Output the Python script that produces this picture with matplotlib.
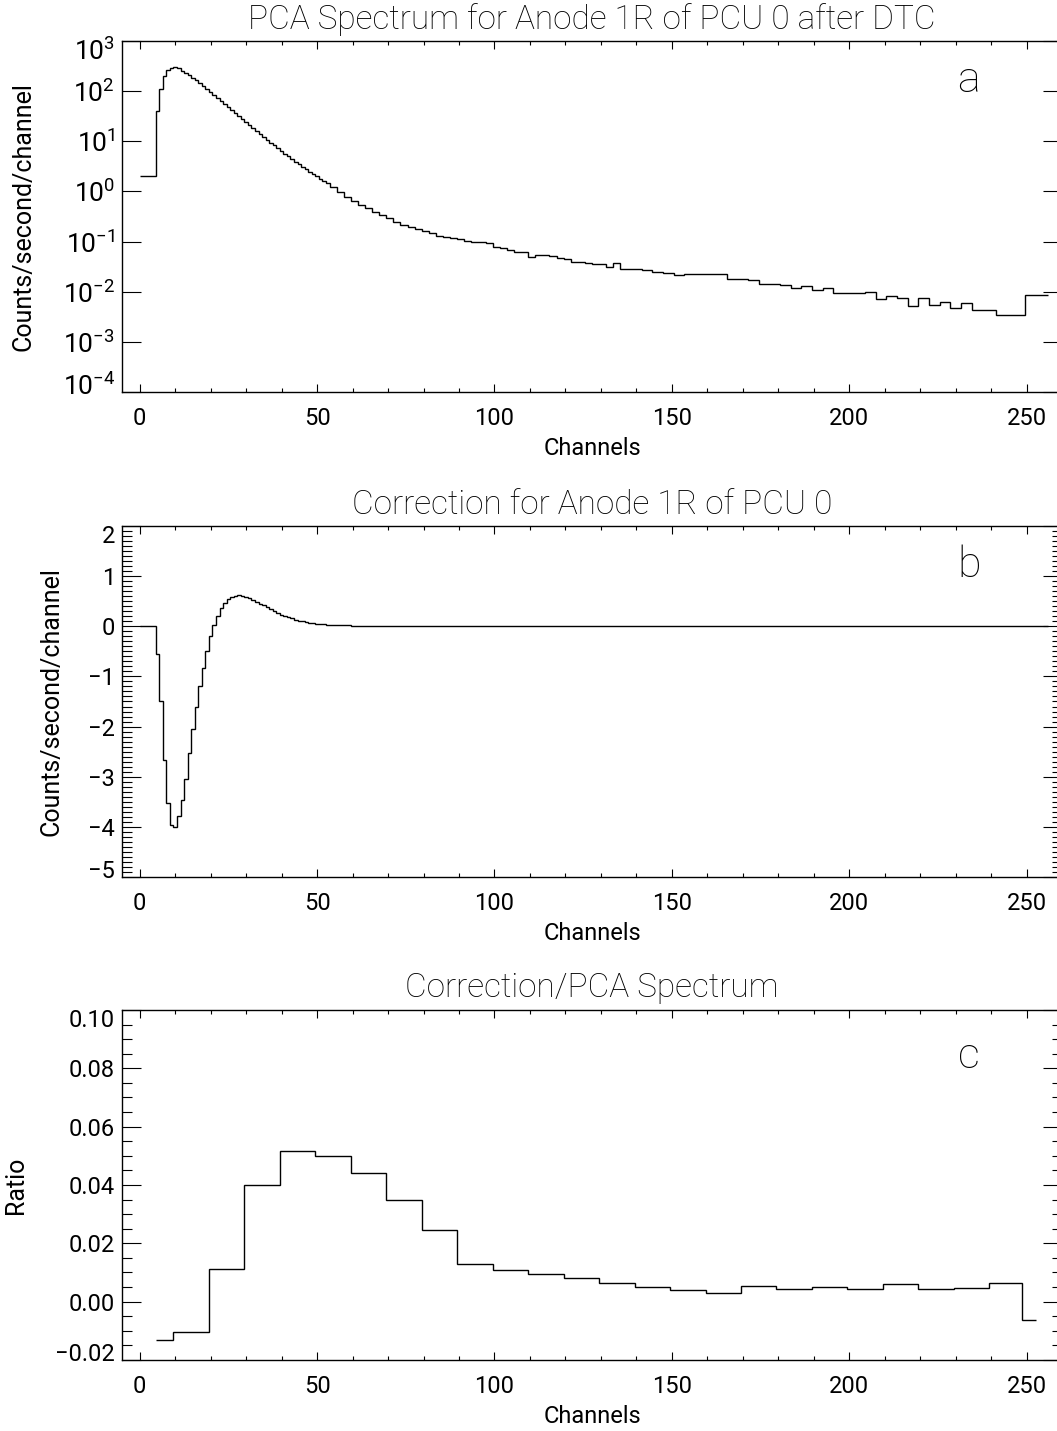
"""
Recreation of an IDL-style three-panel PCA spectrum figure:
    (a) spectrum after dead-time correction, log scale
    (b) correction applied to the spectrum
    (c) ratio of correction to spectrum, 10-channel bins
"""

import matplotlib
matplotlib.use("Agg")
import matplotlib.pyplot as plt
from matplotlib.ticker import MultipleLocator, LogLocator, NullLocator
from matplotlib.transforms import ScaledTranslation

plt.rcParams["font.family"] = ["Roboto", "DejaVu Sans"]
plt.rcParams["axes.linewidth"] = 1.0

# Channel bin edges of the spectrum (single, double, triple and wide bins)
SPEC_EDGES = [
    0, 4.5, 5.5, 6.5, 7.5, 8.5, 9.5, 10.5, 11.5, 12.5, 13.5, 14.5, 15.5, 16.5,
    17.5, 18.5, 19.5, 20.5, 21.5, 22.5, 23.5, 24.5, 25.5, 26.5, 27.5, 28.5,
    29.5, 30.5, 31.5, 32.5, 33.5, 34.5, 35.5, 36.5, 37.5, 38.5, 39.5, 40.5,
    41.5, 42.5, 43.5, 44.5, 45.5, 46.5, 47.5, 48.5, 49.5, 50.5, 51.5, 52.5,
    53.5,
    55.5, 57.5, 59.5, 61.5, 63.5, 65.5, 67.5, 69.5, 71.5, 73.5, 75.5, 77.5,
    79.5, 81.5, 83.5, 85.5, 87.5, 89.5, 91.5, 93.5, 95.5, 97.5, 99.5, 101.5,
    103.5, 105.5, 107.5, 109.5, 111.5, 113.5, 115.5, 117.5, 119.5, 121.5,
    123.5, 125.5, 127.5, 129.5, 131.5, 133.5, 135.5,
    138.5, 141.5, 144.5, 147.5, 150.5, 153.5, 156.5, 159.5, 162.5, 165.5,
    168.5, 171.5, 174.5, 177.5, 180.5, 183.5, 186.5, 189.5, 192.5, 195.5,
    198.5, 201.5, 204.5, 207.5, 210.5, 213.5, 216.5, 219.5, 222.5, 225.5,
    228.5, 231.5, 234.5,
    241.5, 249.5, 256,
]

# Panel a: counts/second/channel per bin
SPEC_RATE = [
    2.06,
    41, 112, 204, 263, 295, 302, 295, 257, 234, 209,
    186, 164, 145, 126, 110, 95, 85, 74, 65, 56,
    49, 42, 36, 32, 27.5, 24.0, 20.9, 18.2, 15.8, 13.8,
    12.0, 10.7, 9.3, 8.3, 7.2, 6.5, 5.6, 5.0, 4.5, 3.9,
    3.5, 3.1, 2.75, 2.45, 2.2, 2.0, 1.8, 1.62, 1.46,
    1.20, 0.97, 0.79, 0.64, 0.54, 0.47, 0.39, 0.34, 0.29, 0.247,
    0.215, 0.196, 0.179, 0.166, 0.147, 0.132, 0.126, 0.118, 0.113, 0.105,
    0.100, 0.099, 0.093, 0.079, 0.074, 0.068, 0.063, 0.062, 0.050, 0.055,
    0.054, 0.051, 0.046, 0.044, 0.040, 0.039, 0.038, 0.036, 0.035, 0.031,
    0.037,
    0.0288, 0.0282, 0.0275, 0.0245, 0.0240, 0.0214, 0.0229, 0.0229, 0.0229, 0.0224,
    0.0182, 0.0178, 0.0170, 0.0145, 0.0141, 0.0138, 0.0120, 0.0132, 0.0107, 0.0117,
    0.0093, 0.0093, 0.0095, 0.0098, 0.0071, 0.0083, 0.0074, 0.0051, 0.0074, 0.0054,
    0.0062, 0.0047, 0.0060,
    0.0043, 0.0035, 0.0085,
]

# Panel b: correction per bin (same binning as the spectrum)
CORRECTION = [
    0.0,
    -0.55, -1.50, -2.66, -3.52, -3.96, -4.00, -3.78, -3.47, -3.05, -2.53,
    -2.04, -1.60, -1.19, -0.83, -0.49, -0.20, 0.03, 0.21, 0.36, 0.47,
    0.54, 0.59, 0.61, 0.62, 0.61, 0.59, 0.56, 0.53, 0.49, 0.45,
    0.42, 0.38, 0.34, 0.30, 0.27, 0.23, 0.21, 0.18, 0.16, 0.13,
    0.11, 0.10, 0.087, 0.073, 0.060, 0.053, 0.046, 0.040, 0.035,
    0.030, 0.024, 0.019, 0.015, 0.012, 0.009, 0.007, 0.005, 0.004, 0.003,
    0.002, 0.0015, 0.001, 0.0, 0.0, 0.0, 0.0, 0.0, 0.0, 0.0,
    0.0, 0.0, 0.0, 0.0, 0.0, 0.0, 0.0, 0.0, 0.0, 0.0,
    0.0, 0.0, 0.0, 0.0, 0.0, 0.0, 0.0, 0.0, 0.0, 0.0,
    0.0,
    0.0, 0.0, 0.0, 0.0, 0.0, 0.0, 0.0, 0.0, 0.0, 0.0,
    0.0, 0.0, 0.0, 0.0, 0.0, 0.0, 0.0, 0.0, 0.0, 0.0,
    0.0, 0.0, 0.0, 0.0, 0.0, 0.0, 0.0, 0.0, 0.0, 0.0,
    0.0, 0.0, 0.0,
    0.0, 0.0, 0.0,
]

# Panel c: ratio in ~10-channel bins
RATIO_EDGES = [4.5, 9.5, 19.5, 29.5, 39.5, 49.5, 59.5, 69.5, 79.5, 89.5,
               99.5, 109.5, 119.5, 129.5, 139.5, 149.5, 159.5, 169.5, 179.5,
               189.5, 199.5, 209.5, 219.5, 229.5, 239.5, 248.7, 252.6]
RATIO = [-0.0133, -0.0105, 0.0111, 0.0400, 0.0515, 0.0500, 0.0441, 0.0350,
         0.0245, 0.0130, 0.0109, 0.0095, 0.0082, 0.0065, 0.0050, 0.0040,
         0.0030, 0.0055, 0.0044, 0.0050, 0.0042, 0.0062, 0.0043, 0.0047,
         0.0063, -0.0062]

TICK_FS = 17
LOG_TICK_FS = 19
LABEL_FS = 17
YLABEL_FS = 18
TITLE_FS = 24
TAG_FS = 31

W, H = 1057, 1431


def _axes_px(fig, left, top, right, bottom):
    """Adds axes from pixel box (y measured from the top)."""
    return fig.add_axes([left / W, 1 - bottom / H, (right - left) / W, (bottom - top) / H])


def _style(ax, title, ylabel, ylab_x, tag, tag_y):
    ax.set_xlim(-5, 260)
    ax.xaxis.set_major_locator(MultipleLocator(50))
    ax.xaxis.set_minor_locator(MultipleLocator(10))
    ax.tick_params(which="both", direction="in", top=True, right=True,
                   width=0.8, labelsize=TICK_FS)
    ax.tick_params(axis="x", which="major", length=5.8, pad=11)
    ax.tick_params(axis="x", which="minor", length=2.9)
    ax.tick_params(axis="y", which="major", length=13.7, pad=5)
    ax.tick_params(axis="y", which="minor", length=7)
    ax.set_xlabel("Channels", fontsize=LABEL_FS, labelpad=5)
    ax.set_ylabel(ylabel, fontsize=YLABEL_FS)
    ax.yaxis.set_label_coords(ylab_x, 0.5)
    ax.set_title(title, fontsize=TITLE_FS, fontweight="light", pad=9)
    ax.text(0.901, tag_y, tag, transform=ax.transAxes, fontsize=TAG_FS,
            fontweight="light", ha="center", va="baseline")


def _nudge_end_labels(fig, ax):
    """IDL keeps the end labels inside the axis range: shift them inward."""
    lo, hi = ax.get_ylim()
    shift = 8 / 100
    for tick in ax.yaxis.get_major_ticks():
        loc = tick.get_loc()
        if abs(loc - hi) <= 1e-9 * max(1, abs(hi)):
            dy = -shift
        elif abs(loc - lo) <= 1e-9 * max(1, abs(lo)):
            dy = shift
        else:
            continue
        off = ScaledTranslation(0, dy, fig.dpi_scale_trans)
        tick.label1.set_transform(tick.label1.get_transform() + off)


fig = plt.figure(figsize=(W / 100, H / 100), dpi=100)

# (a) spectrum
ax1 = _axes_px(fig, 122, 41, 1062, 392)
ax1.stairs(SPEC_RATE, SPEC_EDGES, baseline=None, color="black", linewidth=1.0)
ax1.set_yscale("log")
ax1.set_ylim(1e-4, 1e3)
ax1.yaxis.set_major_locator(LogLocator(base=10, numticks=12))
ax1.yaxis.set_minor_locator(NullLocator())
_style(ax1, "PCA Spectrum for Anode 1R of PCU 0 after DTC",
       "Counts/second/channel", -0.092, "a", 0.855)
ax1.tick_params(axis="y", labelsize=LOG_TICK_FS)

# (b) correction
ax2 = _axes_px(fig, 122, 526, 1062, 877)
ax2.stairs(CORRECTION, SPEC_EDGES, baseline=None, color="black", linewidth=1.0)
ax2.set_ylim(-5, 2)
ax2.yaxis.set_major_locator(MultipleLocator(1))
ax2.yaxis.set_minor_locator(MultipleLocator(0.1))
_style(ax2, "Correction for Anode 1R of PCU 0",
       "Counts/second/channel", -0.062, "b", 0.855)

# (c) ratio
ax3 = _axes_px(fig, 122, 1010, 1062, 1360)
ax3.stairs(RATIO, RATIO_EDGES, baseline=None, color="black", linewidth=1.0)
ax3.set_ylim(-0.02, 0.10)
ax3.yaxis.set_major_locator(MultipleLocator(0.02))
ax3.yaxis.set_minor_locator(MultipleLocator(0.005))
_style(ax3, "Correction/PCA Spectrum", "Ratio", -0.1, "c", 0.834)

fig.canvas.draw()
for ax in (ax1, ax2, ax3):
    _nudge_end_labels(fig, ax)

fig.savefig("out.png", dpi=100)
plt.close(fig)
